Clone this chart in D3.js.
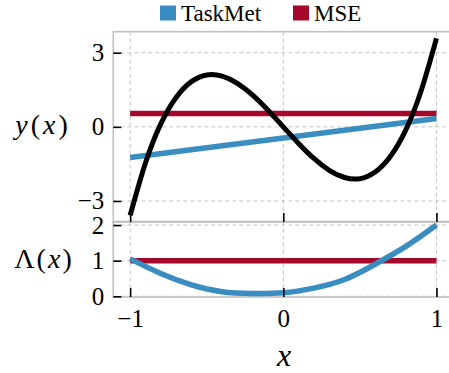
<!DOCTYPE html>
<html>
<head>
<meta charset="utf-8">
<script src="https://cdn.jsdelivr.net/npm/d3@7"></script>
<style>
  html, body { margin: 0; padding: 0; background: #fff; }
  svg { display: block; }
</style>
</head>
<body>
<svg id="chart" width="449" height="373"></svg>
<script>
// values
const xTicks = [-1, 0, 1];
const yTopTicks = [-3, 0, 3];
const yBotTicks = [0, 1, 2];
const seriesNames = ["TaskMet", "MSE"];

const truthX = [-1, -0.9, -0.8, -0.7, -0.6, -0.5, -0.4, -0.3, -0.2, -0.1, 0, 0.1, 0.2, 0.3, 0.4, 0.5, 0.6, 0.7, 0.8, 0.9, 1];
const truthY = [-3.58, -1.46, 0.12, 1.19, 1.83, 2.10, 2.05, 1.76, 1.28, 0.67, 0, -0.67, -1.28, -1.76, -2.05, -2.10, -1.83, -1.19, -0.12, 1.46, 3.58];

const fitX = [-1, 1];
const taskMetFit = [-1.24, 0.34];
const mseFit = [0.54, 0.54];

const lambdaX = [-1, -0.8, -0.6, -0.4, -0.2, 0, 0.2, 0.4, 0.6, 0.8, 1];
const taskMetLambda = [1.05, 0.64, 0.32, 0.13, 0.08, 0.10, 0.23, 0.47, 0.90, 1.40, 2.0];
const mseLambda = [1, 1, 1, 1, 1, 1, 1, 1, 1, 1, 1];

const colors = { TaskMet: "#3a8dc1", MSE: "#a6082c" };
const frameColor = "#c0c0c0";
const gridColor = "#c4c4c4";
const serif = "'Liberation Serif', 'Times New Roman', serif";

const svg = d3.select("#chart");

const xScale = d3.scaleLinear().domain([-1.11, 1.11]).range([113.3, 453.3]);
const yTop = d3.scaleLinear().domain([-3.85, 3.85]).range([222, 31.7]);
const yBot = d3.scaleLinear().domain([-0.02, 2.1]).range([297, 221.5]);

const panels = [
    { y: yTop, ticks: yTopTicks },
    { y: yBot, ticks: yBotTicks }
];

panels.forEach(p => {
    const [bottom, top] = p.y.range();
    const [left, right] = xScale.range();

    const g = svg.append("g");
    g.selectAll(".vgrid")
        .data(xTicks)
        .join("line")
        .attr("x1", d => xScale(d)).attr("x2", d => xScale(d))
        .attr("y1", top).attr("y2", bottom)
        .attr("stroke", gridColor).attr("stroke-width", 1)
        .attr("stroke-dasharray", "4,3");
    g.selectAll(".hgrid")
        .data(p.ticks)
        .join("line")
        .attr("x1", left).attr("x2", right)
        .attr("y1", d => p.y(d)).attr("y2", d => p.y(d))
        .attr("stroke", gridColor).attr("stroke-width", 1)
        .attr("stroke-dasharray", "4,3");

    svg.append("rect")
        .attr("x", left).attr("y", top)
        .attr("width", right - left).attr("height", bottom - top)
        .attr("fill", "none")
        .attr("stroke", frameColor).attr("stroke-width", 1.6);
});

svg.append("clipPath").attr("id", "clipTop").append("rect")
    .attr("x", 113).attr("y", 31).attr("width", 340).attr("height", 191);

const lineTop = d3.line().x(d => xScale(d[0])).y(d => yTop(d[1]));
const lineBot = d3.line().x(d => xScale(d[0])).y(d => yBot(d[1]));

svg.append("path")
    .datum(d3.zip(fitX, mseFit))
    .attr("d", lineTop)
    .attr("fill", "none").attr("stroke", colors.MSE).attr("stroke-width", 5.5);

svg.append("path")
    .datum(d3.zip(fitX, taskMetFit))
    .attr("d", lineTop)
    .attr("fill", "none").attr("stroke", colors.TaskMet).attr("stroke-width", 5.5);

svg.append("path")
    .datum(d3.zip(truthX, truthY))
    .attr("d", lineTop.curve(d3.curveNatural))
    .attr("clip-path", "url(#clipTop)")
    .attr("fill", "none").attr("stroke", "#000").attr("stroke-width", 5);

svg.append("path")
    .datum(d3.zip(lambdaX, mseLambda))
    .attr("d", lineBot)
    .attr("fill", "none").attr("stroke", colors.MSE).attr("stroke-width", 5.5);

svg.append("path")
    .datum(d3.zip(lambdaX, taskMetLambda))
    .attr("d", lineBot.curve(d3.curveNatural))
    .attr("fill", "none").attr("stroke", colors.TaskMet).attr("stroke-width", 5.5);

// axes: inward black ticks
const styleAxis = sel => {
    sel.attr("font-family", null).attr("font-size", null);
    sel.select(".domain").remove();
    sel.selectAll(".tick line").attr("stroke", "#000").attr("stroke-width", 1.6);
    sel.selectAll(".tick text")
        .attr("fill", "#000")
        .style("font-size", "25px")
        .style("font-family", serif);
};

const fmt = d3.format("d");

svg.append("g")
    .attr("transform", `translate(${xScale.range()[0]},0)`)
    .call(d3.axisLeft(yTop).tickValues(yTopTicks).tickFormat(fmt).tickSizeInner(-8).tickSizeOuter(0).tickPadding(9))
    .call(styleAxis);

svg.append("g")
    .attr("transform", `translate(${xScale.range()[0]},0)`)
    .call(d3.axisLeft(yBot).tickValues(yBotTicks).tickFormat(fmt).tickSizeInner(-8).tickSizeOuter(0).tickPadding(9))
    .call(styleAxis);

svg.append("g")
    .attr("transform", `translate(0,${yTop.range()[0]})`)
    .call(d3.axisBottom(xScale).tickValues(xTicks).tickSizeInner(-9).tickSizeOuter(0).tickFormat(""))
    .call(styleAxis);

svg.append("g")
    .attr("transform", `translate(0,${yBot.range()[0]})`)
    .call(d3.axisBottom(xScale).tickValues(xTicks).tickFormat(fmt).tickSizeInner(-9).tickSizeOuter(0).tickPadding(12))
    .call(styleAxis);

// axis titles
const mathLabel = (x, y, parts, size, spacing) => {
    const t = svg.append("text")
        .attr("x", x).attr("y", y)
        .attr("text-anchor", "middle")
        .attr("fill", "#000")
        .style("font-size", size + "px")
        .style("font-family", serif)
        .style("letter-spacing", spacing + "px");
    parts.forEach(([s, italic]) => {
        t.append("tspan").style("font-style", italic ? "italic" : "normal").text(s);
    });
};
mathLabel(43, 134, [["y", true], ["(", false], ["x", true], [")", false]], 28, 3);
mathLabel(44, 268, [["\u039b", false], ["(", false], ["x", true], [")", false]], 28, 2);
mathLabel(284, 366, [["x", true]], 32, 0);

// legend
const legend = svg.append("g");
const legendX = [160, 293];
seriesNames.forEach((name, i) => {
    legend.append("rect")
        .attr("x", legendX[i]).attr("y", 5.5)
        .attr("width", 16).attr("height", 15)
        .attr("fill", colors[name]);
    legend.append("text")
        .attr("x", legendX[i] + 21).attr("y", 21)
        .attr("fill", "#000")
        .style("font-size", "23px")
        .style("font-family", serif)
        .text(name);
});
</script>
</body>
</html>
